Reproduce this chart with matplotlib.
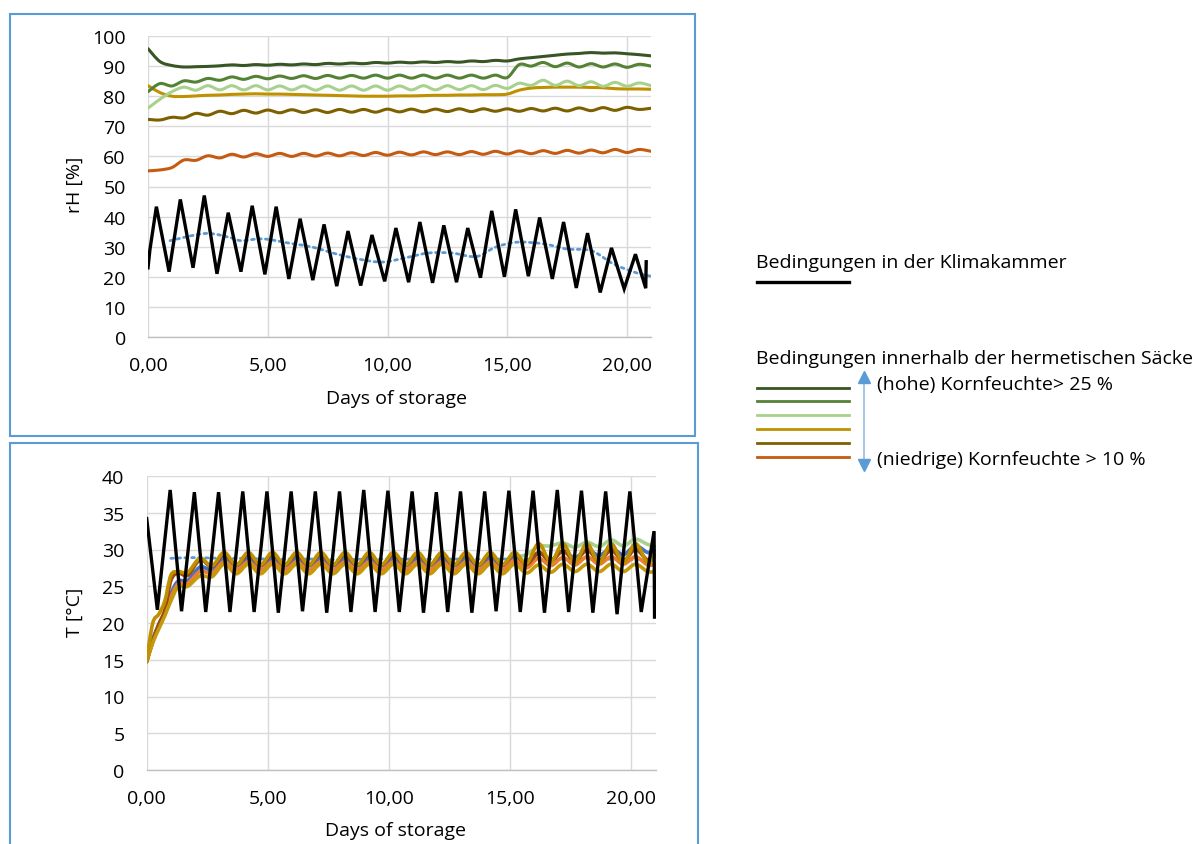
import numpy as np
import matplotlib
matplotlib.use("Agg")
import matplotlib.pyplot as plt
from matplotlib.path import Path
from matplotlib.patches import PathPatch, Rectangle
from matplotlib.lines import Line2D

plt.rcParams['font.family'] = ['Open Sans', 'DejaVu Sans']

# ---------------- data ----------------
x_ticks = [0, 5, 10, 15, 20]
x_ticklabels = ["0,00", "5,00", "10,00", "15,00", "20,00"]
rh_yticks = [0, 10, 20, 30, 40, 50, 60, 70, 80, 90, 100]
t_yticks = [0, 5, 10, 15, 20, 25, 30, 35, 40]

# rH in the climate chamber (peaks / troughs of each daily cycle)
rh_ch_start_days = [0.0, 0.08]
rh_ch_start_vals = [23.0, 29.0]
rh_ch_peak_days = [0.35, 1.35, 2.35, 3.35, 4.35, 5.35, 6.35, 7.35, 8.35, 9.35, 10.35,
                   11.35, 12.35, 13.35, 14.35, 15.35, 16.35, 17.35, 18.35, 19.35, 20.35]
rh_ch_peak_vals = [43.3, 45.7, 47.0, 41.3, 43.6, 43.3, 39.3, 37.4, 35.2, 33.9, 36.2,
                   38.2, 37.1, 36.2, 41.9, 42.4, 39.7, 38.2, 34.5, 29.6, 27.5]
rh_ch_trough_days = [0.88, 1.88, 2.88, 3.88, 4.88, 5.88, 6.88, 7.88, 8.88, 9.88, 10.88,
                     11.88, 12.88, 13.88, 14.88, 15.88, 16.88, 17.88, 18.88, 19.88, 20.78]
rh_ch_trough_vals = [21.7, 23.0, 21.0, 21.7, 20.8, 19.3, 18.9, 16.9, 17.1, 18.5, 18.2,
                     18.0, 18.2, 19.7, 20.0, 20.2, 19.3, 16.3, 14.8, 16.0, 16.2]
rh_ch_end_days = [20.8]
rh_ch_end_vals = [25.0]

# moving average of chamber rH (dotted)
rh_trend_days = [0.92, 2.4, 3.4, 3.9, 4.8, 5.95, 6.9, 7.9, 8.85, 9.8, 10.8,
                 11.7, 12.7, 13.7, 14.5, 15.4, 16.55, 17.5, 18.5, 19.45, 20.4, 21.0]
rh_trend_vals = [32.0, 34.4, 33.1, 32.0, 32.6, 31.1, 29.8, 27.5, 25.8, 24.9, 26.4,
                 27.9, 27.9, 26.7, 29.8, 31.5, 30.9, 29.2, 28.7, 24.2, 21.3, 20.2]

# rH inside the hermetic bags (half-day readings)
rh_bag_days = [0.0, 0.5, 1.0, 1.5, 2.0, 2.5, 3.0, 3.5, 4.0, 4.5, 5.0, 5.5, 6.0, 6.5, 7.0,
               7.5, 8.0, 8.5, 9.0, 9.5, 10.0, 10.5, 11.0, 11.5, 12.0, 12.5, 13.0, 13.5,
               14.0, 14.5, 15.0, 15.5, 16.0, 16.5, 17.0, 17.5, 18.0, 18.5, 19.0, 19.5,
               20.0, 20.5, 21.0]
rh_bag_dark_green = [95.8, 91.5, 90.2, 89.7, 89.8, 89.9, 90.1, 90.4, 90.2, 90.5, 90.3, 90.6,
                     90.4, 90.7, 90.5, 90.9, 90.7, 91.0, 90.8, 91.2, 91.0, 91.3, 91.1, 91.4,
                     91.2, 91.5, 91.3, 91.7, 91.5, 91.9, 91.7, 92.4, 92.8, 93.2, 93.6, 94.0,
                     94.2, 94.5, 94.3, 94.4, 94.1, 93.8, 93.4]
rh_bag_green = [81.5, 84.2, 83.4, 85.1, 84.7, 85.9, 85.3, 86.4, 85.6, 86.6, 85.8, 86.7,
                85.9, 86.8, 85.9, 86.9, 86.0, 86.9, 86.0, 87.0, 86.0, 87.0, 86.0, 87.0,
                86.0, 87.0, 86.0, 87.0, 86.0, 87.0, 86.2, 90.5, 90.0, 91.2, 89.8, 91.0,
                89.7, 90.8, 89.7, 90.7, 89.6, 90.6, 90.0]
rh_bag_light_green = [76.0, 79.0, 81.5, 83.0, 82.0, 83.5, 82.1, 83.5, 82.1, 83.5, 82.1, 83.4,
                      82.1, 83.4, 82.0, 83.4, 82.0, 83.4, 82.0, 83.4, 82.0, 83.4, 82.1, 83.5,
                      82.1, 83.5, 82.2, 83.5, 82.2, 83.6, 82.6, 84.3, 83.6, 85.3, 83.6, 85.0,
                      83.5, 84.8, 83.3, 84.6, 83.3, 84.4, 83.5]
rh_bag_gold = [83.5, 81.2, 80.0, 79.9, 80.1, 80.3, 80.4, 80.6, 80.7, 80.8, 80.7, 80.7,
               80.6, 80.5, 80.4, 80.3, 80.2, 80.1, 80.0, 80.0, 80.0, 80.1, 80.1, 80.2,
               80.3, 80.3, 80.4, 80.4, 80.5, 80.5, 80.7, 82.0, 82.7, 82.9, 83.0, 83.0,
               83.0, 82.9, 82.8, 82.5, 82.4, 82.4, 82.3]
rh_bag_olive = [72.3, 72.1, 73.0, 72.8, 74.3, 73.7, 75.0, 74.2, 75.3, 74.4, 75.4, 74.5,
                75.5, 74.6, 75.5, 74.6, 75.6, 74.7, 75.6, 74.7, 75.7, 74.8, 75.7, 74.8,
                75.7, 74.9, 75.8, 74.9, 75.8, 75.0, 75.8, 75.0, 75.9, 75.1, 76.0, 75.1,
                76.1, 75.2, 76.2, 75.3, 76.3, 75.6, 76.0]
rh_bag_orange = [55.2, 55.5, 56.3, 58.8, 58.7, 60.2, 59.5, 60.7, 59.8, 60.9, 60.0, 61.0,
                 60.0, 61.0, 60.1, 61.1, 60.2, 61.2, 60.3, 61.3, 60.4, 61.4, 60.5, 61.5,
                 60.6, 61.5, 60.6, 61.6, 60.7, 61.7, 60.8, 61.8, 60.9, 61.9, 61.0, 62.0,
                 61.1, 62.1, 61.2, 62.3, 61.3, 62.3, 61.7]

# temperature in the climate chamber
t_ch_start_days = [0.0]
t_ch_start_vals = [34.2]
t_ch_peak_days = [0.97, 1.97, 2.97, 3.97, 4.97, 5.97, 6.97, 7.97, 8.97, 9.97,
                  10.97, 11.97, 12.97, 13.97, 14.97, 15.97, 16.97, 17.97, 18.97, 19.97]
t_ch_peak_vals = [38.1, 37.8, 37.8, 37.9, 37.9, 37.9, 37.9, 37.9, 38.1, 38.0,
                  37.9, 37.8, 37.9, 37.9, 38.0, 38.0, 38.1, 38.0, 37.9, 37.9]
t_ch_trough_days = [0.44, 1.44, 2.44, 3.44, 4.44, 5.44, 6.44, 7.44, 8.44, 9.44, 10.44,
                    11.44, 12.44, 13.44, 14.44, 15.44, 16.44, 17.44, 18.44, 19.44, 20.44]
t_ch_trough_vals = [21.8, 21.6, 21.5, 21.5, 21.5, 21.4, 21.6, 21.4, 21.5, 21.5, 21.5,
                    21.4, 21.5, 21.4, 21.6, 21.5, 21.4, 21.5, 21.4, 21.2, 21.5]
t_ch_end_days = [20.97, 20.99]
t_ch_end_vals = [32.5, 20.8]

t_trend_days = [1, 2, 3, 4, 5, 6, 7, 8, 9, 10, 11, 12, 13, 14, 15, 16, 17, 18, 19, 20, 21]
t_trend_vals = [28.8, 28.9, 28.8, 28.8, 28.7, 28.7, 28.7, 28.6, 28.7, 28.7, 28.7,
                28.7, 28.7, 28.7, 28.7, 28.7, 28.7, 28.7, 28.7, 28.6, 28.6]

# temperature inside the bags
t_bag_days = [0.0, 0.25, 0.5, 0.75, 1.0, 1.3, 1.7, 2.2, 2.7, 3.2, 3.7, 4.2, 4.7, 5.2, 5.7,
              6.2, 6.7, 7.2, 7.7, 8.2, 8.7, 9.2, 9.7, 10.2, 10.7, 11.2, 11.7, 12.2, 12.7,
              13.2, 13.7, 14.2, 14.7, 15.2, 15.7, 16.2, 16.7, 17.2, 17.7, 18.2, 18.7,
              19.2, 19.7, 20.2, 20.7, 21.0]
t_bag_light_green = [14.8, 17.6, 19.6, 21.3, 23.8, 25.5, 25.6, 27.4, 27.1, 28.6, 27.6, 28.6,
                     27.6, 28.6, 27.6, 28.6, 27.6, 28.6, 27.6, 28.6, 27.6, 28.6, 27.6, 28.6,
                     27.6, 28.6, 27.6, 28.6, 27.6, 28.6, 27.6, 28.7, 27.7, 28.9, 29.3, 30.4,
                     30.5, 30.9, 30.3, 31.0, 30.4, 31.3, 30.5, 31.4, 30.7, 30.4]
t_bag_blue = [14.8, 17.8, 19.8, 21.5, 24.0, 25.7, 25.8, 27.6, 27.3, 28.8, 27.8, 28.8,
              27.8, 28.8, 27.8, 28.8, 27.8, 28.8, 27.8, 28.8, 27.8, 28.8, 27.8, 28.8,
              27.8, 28.8, 27.8, 28.8, 27.8, 28.8, 27.8, 28.8, 27.8, 29.0, 28.0, 29.5,
              28.6, 29.8, 28.9, 30.0, 29.2, 30.2, 29.3, 30.5, 29.6, 29.8]
t_bag_orange = [14.8, 17.5, 19.5, 21.2, 23.5, 25.3, 25.4, 27.0, 26.8, 28.3, 27.2, 28.3,
                27.2, 28.3, 27.2, 28.3, 27.2, 28.3, 27.2, 28.3, 27.2, 28.3, 27.2, 28.3,
                27.2, 28.3, 27.2, 28.3, 27.2, 28.3, 27.2, 28.3, 27.2, 28.5, 27.5, 28.8,
                27.8, 28.9, 27.9, 29.0, 28.0, 29.0, 28.0, 29.0, 27.9, 28.0]
t_bag_brown = [14.7, 17.5, 19.8, 21.8, 25.8, 26.8, 26.5, 28.6, 27.7, 29.3, 27.9, 29.3,
               27.9, 29.3, 27.9, 29.3, 27.9, 29.3, 27.9, 29.3, 27.9, 29.3, 27.9, 29.3,
               27.9, 29.3, 27.9, 29.3, 27.9, 29.3, 27.9, 29.3, 27.9, 29.4, 28.0, 29.6,
               28.4, 29.8, 28.5, 29.9, 28.5, 29.9, 28.5, 30.0, 28.6, 29.3]
t_bag_gold_low = [14.8, 17.3, 19.2, 21.0, 23.0, 24.9, 25.0, 26.4, 26.3, 28.0, 26.7, 28.0,
                  26.7, 28.0, 26.7, 28.0, 26.7, 28.0, 26.7, 28.0, 26.7, 28.0, 26.7, 28.0,
                  26.7, 28.0, 26.7, 28.0, 26.7, 28.0, 26.7, 28.0, 26.7, 28.0, 26.8, 27.9,
                  26.9, 28.0, 27.0, 28.0, 27.0, 28.0, 27.0, 28.0, 27.0, 27.0]
t_bag_gold_high = [15.0, 20.0, 21.2, 23.0, 26.5, 27.0, 26.9, 28.8, 27.8, 29.6, 27.9, 29.6,
                   27.9, 29.6, 27.9, 29.6, 27.9, 29.6, 27.9, 29.6, 27.9, 29.6, 27.9, 29.6,
                   27.9, 29.6, 27.9, 29.6, 27.9, 29.6, 27.9, 29.6, 27.9, 29.6, 28.1, 30.8,
                   28.3, 30.8, 28.3, 30.8, 28.2, 30.8, 28.2, 30.8, 28.2, 29.3]

legend_title_chamber = "Bedingungen in der Klimakammer"
legend_title_bags = "Bedingungen innerhalb der hermetischen Säcke"
legend_high = "(hohe) Kornfeuchte> 25 %"
legend_low = "(niedrige) Kornfeuchte > 10 %"

# ---------------- styling ----------------
C_DGREEN, C_GREEN, C_LGREEN = '#375623', '#548235', '#A9D18E'
C_GOLD, C_OLIVE, C_ORANGE = '#BF9000', '#7F6000', '#C55A11'
C_TREND = '#5B9BD5'
GRID = '#D9D9D9'
FS = 14

W, H = 1195, 845
fig = plt.figure(figsize=(W / 100, H / 100), dpi=100)


def fx(x):
    return x / W


def fy(y):
    return 1 - y / H


def smooth_path(x, y):
    pts = np.column_stack([np.asarray(x, float), np.asarray(y, float)])
    n = len(pts)
    verts = [pts[0]]
    codes = [Path.MOVETO]
    for i in range(n - 1):
        p0 = pts[i - 1] if i > 0 else pts[i]
        p1, p2 = pts[i], pts[i + 1]
        p3 = pts[i + 2] if i + 2 < n else pts[i + 1]
        verts += [p1 + (p2 - p0) / 6.0, p2 - (p3 - p1) / 6.0, p2]
        codes += [Path.CURVE4] * 3
    return Path(verts, codes)


def smooth_line(ax, x, y, **kw):
    ax.add_patch(PathPatch(smooth_path(x, y), fill=False, transform=ax.transData,
                           capstyle='round', joinstyle='round', **kw))


def merged(*pairs):
    d = np.concatenate([np.asarray(p[0], float) for p in pairs])
    v = np.concatenate([np.asarray(p[1], float) for p in pairs])
    o = np.argsort(d)
    return d[o], v[o]


def style_axes(ax, yticks, xmax, ymax):
    ax.set_xlim(0, xmax)
    ax.set_ylim(0, ymax)
    ax.set_xticks(x_ticks)
    ax.set_xticklabels(x_ticklabels)
    ax.set_yticks(yticks)
    ax.set_yticklabels([str(v) for v in yticks])
    ax.grid(True, color=GRID, lw=1.0)
    ax.set_axisbelow(True)
    for s in ['top', 'right', 'left']:
        ax.spines[s].set_visible(False)
    ax.spines['bottom'].set_color('#BFBFBF')
    ax.spines['bottom'].set_linewidth(1.0)
    ax.tick_params(length=0, labelsize=FS, colors='#000000')
    ax.tick_params(axis='x', pad=14)
    ax.tick_params(axis='y', pad=16)


# ---- top: relative humidity ----
ax1 = fig.add_axes([fx(148), fy(338), fx(503), 301 / H])
style_axes(ax1, rh_yticks, 21.0, 100)
for vals, col in [(rh_bag_orange, C_ORANGE), (rh_bag_olive, C_OLIVE), (rh_bag_gold, C_GOLD),
                  (rh_bag_light_green, C_LGREEN), (rh_bag_green, C_GREEN),
                  (rh_bag_dark_green, C_DGREEN)]:
    smooth_line(ax1, rh_bag_days, vals, edgecolor=col, lw=2.2)
d, v = merged((rh_ch_start_days, rh_ch_start_vals), (rh_ch_peak_days, rh_ch_peak_vals),
              (rh_ch_trough_days, rh_ch_trough_vals), (rh_ch_end_days, rh_ch_end_vals))
ax1.plot(d, v, color='black', lw=2.4, solid_joinstyle='miter')
smooth_line(ax1, rh_trend_days, rh_trend_vals, edgecolor=C_TREND, lw=2.0,
            linestyle=(0, (1, 1.5)))
ax1.set_xlabel("Days of storage", fontsize=FS)
ax1.xaxis.set_label_coords((396 - 148) / 503, (338 - 390) / 301)
ax1.set_ylabel("rH [%]", fontsize=FS)
ax1.yaxis.set_label_coords((84 - 148) / 503, (338 - 185) / 301)

# ---- bottom: temperature ----
ax2 = fig.add_axes([fx(146.7), fy(771), fx(509.3), 294 / H])
style_axes(ax2, t_yticks, 21.05, 40)
d, v = merged((t_ch_start_days, t_ch_start_vals), (t_ch_peak_days, t_ch_peak_vals),
              (t_ch_trough_days, t_ch_trough_vals), (t_ch_end_days, t_ch_end_vals))
ax2.plot(d, v, color='black', lw=2.4, solid_joinstyle='miter')
smooth_line(ax2, t_trend_days, t_trend_vals, edgecolor=C_TREND, lw=2.0,
            linestyle=(0, (1, 1.5)))
for vals, col in [(t_bag_light_green, C_LGREEN), (t_bag_blue, '#4472C4'),
                  (t_bag_orange, '#ED7D31'), (t_bag_brown, '#9E480E'),
                  (t_bag_gold_low, '#C49A0A'), (t_bag_gold_high, '#BF9000')]:
    smooth_line(ax2, t_bag_days, vals, edgecolor=col, lw=2.6)
ax2.set_xlabel("Days of storage", fontsize=FS)
ax2.xaxis.set_label_coords((395 - 146.7) / 509.3, (771 - 822) / 294)
ax2.set_ylabel("T [°C]", fontsize=FS)
ax2.yaxis.set_label_coords((84 - 146.7) / 509.3, (771 - 612) / 294)

# ---- chart borders ----
fig.add_artist(Rectangle((fx(10), fy(437)), fx(685), (437 - 15) / H, transform=fig.transFigure,
                         fill=False, edgecolor='#5B9BD5', lw=1.5))
fig.add_artist(Rectangle((fx(10), fy(870)), fx(688), (870 - 444) / H, transform=fig.transFigure,
                         fill=False, edgecolor='#5B9BD5', lw=1.5))

# ---- legend area ----
fig.text(fx(756), fy(263), legend_title_chamber, fontsize=FS, va='center', ha='left')
fig.add_artist(Line2D([fx(757), fx(849)], [fy(283), fy(283)], color='black', lw=2.4,
                      transform=fig.transFigure))
fig.text(fx(756), fy(359), legend_title_bags, fontsize=FS, va='center', ha='left')
for yy, col in zip([389, 402, 416, 430, 444, 458],
                   [C_DGREEN, C_GREEN, C_LGREEN, C_GOLD, C_OLIVE, C_ORANGE]):
    fig.add_artist(Line2D([fx(757), fx(849)], [fy(yy), fy(yy)], color=col, lw=2.0,
                          transform=fig.transFigure))
fig.add_artist(Line2D([fx(864), fx(864)], [fy(378), fy(466)], color='#9DC3E6', lw=1.3,
                      transform=fig.transFigure))
fig.add_artist(Line2D([fx(864)], [fy(378)], marker='^', color='#5B9BD5', markersize=8,
                      transform=fig.transFigure, lw=0))
fig.add_artist(Line2D([fx(864)], [fy(466)], marker='v', color='#5B9BD5', markersize=8,
                      transform=fig.transFigure, lw=0))
fig.text(fx(877), fy(385), legend_high, fontsize=FS, va='center', ha='left')
fig.text(fx(877), fy(460), legend_low, fontsize=FS, va='center', ha='left')

fig.savefig("out.png", dpi=100)
